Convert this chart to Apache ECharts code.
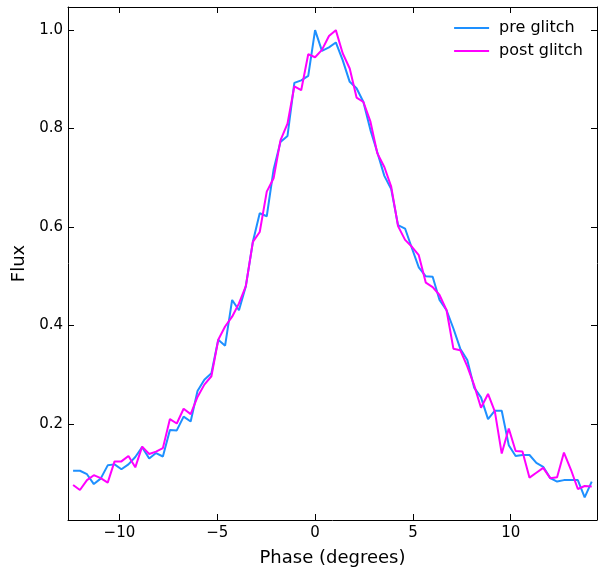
<!DOCTYPE html>
<html>
<head>
<meta charset="utf-8">
<script src="https://cdn.jsdelivr.net/npm/echarts@6/dist/echarts.min.js"></script>
<style>
html, body { margin: 0; padding: 0; background: #fff; }
#chart { width: 609px; height: 567px; }
</style>
</head>
<body>
<div id="chart"></div>
<script>
var phase = [-12.37, -12.02, -11.66, -11.31, -10.96, -10.60, -10.25, -9.90, -9.54, -9.19,
    -8.84, -8.48, -8.13, -7.78, -7.42, -7.07, -6.72, -6.36, -6.01, -5.66,
    -5.30, -4.95, -4.60, -4.24, -3.89, -3.54, -3.18, -2.83, -2.47, -2.12,
    -1.77, -1.41, -1.06, -0.71, -0.35, 0.00, 0.35, 0.71, 1.06, 1.41,
    1.77, 2.12, 2.47, 2.83, 3.18, 3.54, 3.89, 4.24, 4.60, 4.95,
    5.30, 5.66, 6.01, 6.36, 6.72, 7.07, 7.42, 7.78, 8.13, 8.48,
    8.84, 9.19, 9.54, 9.90, 10.25, 10.60, 10.96, 11.31, 11.66, 12.02,
    12.37, 12.72, 13.08, 13.43, 13.78, 14.14]

var preGlitch = [0.105, 0.105, 0.098, 0.078, 0.089, 0.116, 0.118, 0.108, 0.118, 0.133,
    0.153, 0.130, 0.141, 0.134, 0.188, 0.187, 0.215, 0.205, 0.267, 0.290,
    0.303, 0.371, 0.359, 0.452, 0.431, 0.480, 0.570, 0.628, 0.622, 0.717,
    0.773, 0.785, 0.893, 0.898, 0.907, 1.000, 0.958, 0.965, 0.975, 0.939,
    0.895, 0.882, 0.854, 0.797, 0.752, 0.704, 0.677, 0.604, 0.597, 0.557,
    0.518, 0.500, 0.499, 0.452, 0.431, 0.394, 0.353, 0.330, 0.274, 0.254,
    0.210, 0.227, 0.227, 0.157, 0.135, 0.137, 0.137, 0.121, 0.113, 0.090,
    0.083, 0.086, 0.086, 0.086, 0.051, 0.083]

var postGlitch = [0.076, 0.066, 0.086, 0.096, 0.090, 0.081, 0.124, 0.124, 0.135, 0.112,
    0.154, 0.139, 0.144, 0.151, 0.210, 0.201, 0.231, 0.220, 0.255, 0.280,
    0.297, 0.371, 0.398, 0.418, 0.445, 0.480, 0.570, 0.590, 0.672, 0.699,
    0.776, 0.810, 0.886, 0.878, 0.951, 0.945, 0.960, 0.988, 1.000, 0.953,
    0.922, 0.863, 0.854, 0.814, 0.750, 0.722, 0.682, 0.602, 0.574, 0.560,
    0.543, 0.487, 0.478, 0.462, 0.431, 0.353, 0.350, 0.317, 0.279, 0.233,
    0.261, 0.225, 0.140, 0.191, 0.145, 0.144, 0.091, 0.101, 0.111, 0.090,
    0.092, 0.142, 0.107, 0.068, 0.074, 0.073]

var xTicks = [-10, -5, 0, 5, 10]
var yTicks = [0.2, 0.4, 0.6, 0.8, 1.0]

var pairs = (xs, ys) => {
    var out = []
    for (var i = 0; i < xs.length; i++) {
        out.push([xs[i], ys[i]])
    }
    return out
}

var font = 'DejaVu Sans'
var xMin = -12.63
var xMax = 14.41
var yMin = 0.005
var yMax = 1.047

var makeX = (position, showLabel) => {
    return {
        type: 'value',
        position: position,
        min: xMin,
        max: xMax,
        axisLine: { show: true, onZero: false, lineStyle: { color: '#000', width: 1 } },
        axisTick: { show: true, inside: true, length: 6, customValues: xTicks, lineStyle: { color: '#000', width: 1 } },
        axisLabel: {
            show: showLabel,
            customValues: xTicks,
            color: '#000',
            fontFamily: font,
            fontSize: 15,
            margin: 6,
            formatter: (v) => (v < 0 ? '\u2212' + Math.abs(v) : String(v))
        },
        splitLine: { show: false },
        name: showLabel ? 'Phase (degrees)' : '',
        nameLocation: 'middle',
        nameGap: 29,
        nameTextStyle: { color: '#000', fontFamily: font, fontSize: 18 }
    }
}

var makeY = (position, showLabel) => {
    return {
        type: 'value',
        position: position,
        min: yMin,
        max: yMax,
        axisLine: { show: true, onZero: false, lineStyle: { color: '#000', width: 1 } },
        axisTick: { show: true, inside: true, length: 6, customValues: yTicks, lineStyle: { color: '#000', width: 1 } },
        axisLabel: {
            show: showLabel,
            customValues: yTicks,
            color: '#000',
            fontFamily: font,
            fontSize: 15,
            margin: 5,
            formatter: (v) => v.toFixed(1)
        },
        splitLine: { show: false },
        name: showLabel ? 'Flux' : '',
        nameLocation: 'middle',
        nameGap: 30,
        nameRotate: 90,
        nameTextStyle: { color: '#000', fontFamily: font, fontSize: 18 }
    }
}

var chart = echarts.init(document.getElementById('chart'))

var option = {
    animation: false,
    backgroundColor: '#fff',
    grid: { left: 68, right: 12, top: 7, bottom: 47, containLabel: false, outerBoundsMode: 'none' },
    legend: {
        orient: 'vertical',
        right: 21,
        top: 15,
        icon: 'rect',
        itemWidth: 35,
        itemHeight: 2,
        itemGap: 7,
        textStyle: { color: '#000', fontFamily: font, fontSize: 16, padding: [0, 0, 0, 5] },
        data: ['pre glitch', 'post glitch']
    },
    xAxis: [makeX('bottom', true), makeX('top', false)],
    yAxis: [makeY('left', true), makeY('right', false)],
    series: [
        {
            name: 'pre glitch',
            type: 'line',
            data: pairs(phase, preGlitch),
            symbol: 'none',
            lineStyle: { color: '#1e90ff', width: 2 },
            itemStyle: { color: '#1e90ff' }
        },
        {
            name: 'post glitch',
            type: 'line',
            data: pairs(phase, postGlitch),
            symbol: 'none',
            lineStyle: { color: '#ff00ff', width: 2 },
            itemStyle: { color: '#ff00ff' }
        }
    ]
}

chart.setOption(option)
</script>
</body>
</html>
